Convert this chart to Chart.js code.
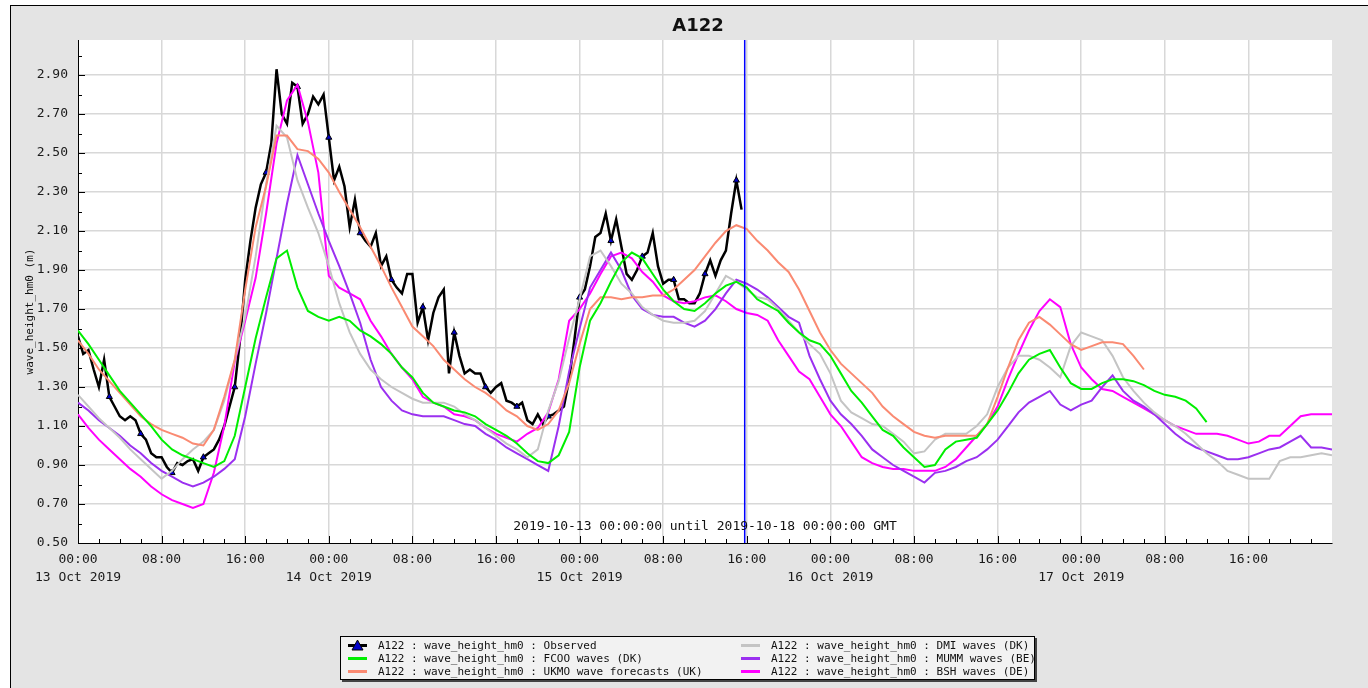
<!DOCTYPE html>
<html>
<head>
<meta charset="utf-8">
<title>A122</title>
<script src="https://cdn.jsdelivr.net/npm/chart.js@4.4.0/dist/chart.umd.min.js"></script>
<style>
  body { margin: 0; background: #fff; width: 1368px; height: 688px; overflow: hidden; position: relative; }
  #frame { position: absolute; left: 10px; top: 5px; right: 0; bottom: 0; background: #e4e4e4; border-top: 1px solid #000; border-left: 1px solid #000; }
  #chart { position: absolute; left: 0; top: 0; }
  #legend { position: absolute; left: 340px; top: 636px; width: 693px; height: 42px; background: #f2f2f2; border: 1px solid #000; box-shadow: 2px 2px 0 #444; font: 11px "DejaVu Sans Mono", monospace; color: #111; }
  .item { position: absolute; height: 13px; line-height: 13px; white-space: pre; }
  .item canvas { position: absolute; left: 0; top: 0; }
  .item span { position: absolute; left: 31px; top: 0; }
</style>
</head>
<body>
<div id="frame"></div>
<canvas id="chart" width="1368" height="688"></canvas>
<div id="legend"></div>
<script>
// hours since 13 Oct 2019 00:00 GMT
const obsStep = 0.5;   // observed every 30 min
const modelStep = 1;   // models hourly
const nowHour = 63.8;
const startDay = 13;
const monthYear = "Oct 2019";
const rangeText = "2019-10-13 00:00:00 until 2019-10-18 00:00:00 GMT";
const yTitle = "wave_height_hm0 (m)";
const chartTitle = "A122";

const observed = [
  1.56, 1.47, 1.49, 1.39, 1.30, 1.44, 1.25, 1.20, 1.15, 1.13, 1.15, 1.13, 1.06, 1.03, 0.96, 0.94,
  0.94, 0.89, 0.86, 0.91, 0.90, 0.92, 0.93, 0.87, 0.94, 0.96, 0.98, 1.03, 1.10, 1.20, 1.30, 1.54,
  1.85, 2.05, 2.22, 2.34, 2.40, 2.55, 2.93, 2.70, 2.65, 2.86, 2.84, 2.65, 2.70, 2.79, 2.75, 2.80,
  2.58, 2.36, 2.43, 2.33, 2.12, 2.26, 2.09, 2.05, 2.02, 2.09, 1.92, 1.97, 1.85, 1.81, 1.78, 1.88,
  1.88, 1.63, 1.71, 1.54, 1.68, 1.76, 1.80, 1.37, 1.58, 1.46, 1.37, 1.39, 1.37, 1.37, 1.30, 1.27,
  1.30, 1.32, 1.23, 1.22, 1.20, 1.22, 1.13, 1.11, 1.16, 1.11, 1.15, 1.16, 1.18, 1.20, 1.34, 1.54,
  1.76, 1.80, 1.92, 2.07, 2.09, 2.19, 2.05, 2.16, 2.02, 1.88, 1.85, 1.90, 1.97, 1.99, 2.09, 1.92,
  1.83, 1.85, 1.85, 1.75, 1.75, 1.73, 1.73, 1.78, 1.88, 1.95, 1.87, 1.95, 2.00, 2.19, 2.36, 2.21
];

const fcoo = [
  1.59, 1.52, 1.44, 1.36, 1.28, 1.22, 1.16, 1.10, 1.03, 0.98, 0.95, 0.93,
  0.91, 0.89, 0.92, 1.05, 1.30, 1.55, 1.76, 1.96, 2.00, 1.81, 1.69, 1.66,
  1.64, 1.66, 1.64, 1.59, 1.56, 1.52, 1.47, 1.40, 1.35, 1.27, 1.22, 1.20,
  1.18, 1.17, 1.15, 1.11, 1.08, 1.05, 1.01, 0.96, 0.92, 0.91, 0.95, 1.07,
  1.40, 1.64, 1.73, 1.84, 1.94, 1.99, 1.96, 1.88, 1.80, 1.74, 1.70, 1.69,
  1.73, 1.78, 1.82, 1.84, 1.81, 1.75, 1.72, 1.69, 1.63, 1.58, 1.54, 1.52,
  1.46, 1.37, 1.28, 1.22, 1.15, 1.08, 1.05, 0.99, 0.94, 0.89, 0.90, 0.98,
  1.02, 1.03, 1.04, 1.11, 1.18, 1.27, 1.37, 1.44, 1.47, 1.49, 1.40, 1.32,
  1.29, 1.29, 1.32, 1.34, 1.34, 1.33, 1.31, 1.28, 1.26, 1.25, 1.23, 1.19,
  1.12
];

const ukmo = [
  1.54, 1.47, 1.39, 1.33, 1.27, 1.21, 1.15, 1.11, 1.08, 1.06, 1.04, 1.01,
  1.00, 1.08, 1.25, 1.44, 1.80, 2.12, 2.33, 2.59, 2.59, 2.52, 2.51, 2.47,
  2.40, 2.30, 2.21, 2.12, 2.02, 1.92, 1.81, 1.71, 1.61, 1.56, 1.51, 1.44,
  1.39, 1.34, 1.30, 1.27, 1.23, 1.18, 1.15, 1.10, 1.08, 1.11, 1.18, 1.32,
  1.52, 1.70, 1.76, 1.76, 1.75, 1.76, 1.76, 1.77, 1.77, 1.80, 1.85, 1.90,
  1.97, 2.04, 2.10, 2.13, 2.11, 2.05, 2.00, 1.94, 1.89, 1.80, 1.69, 1.58,
  1.49, 1.42, 1.37, 1.32, 1.27, 1.20, 1.15, 1.11, 1.07, 1.05, 1.04, 1.05,
  1.05, 1.05, 1.05, 1.11, 1.25, 1.40, 1.54, 1.63, 1.66, 1.62, 1.57, 1.52,
  1.49, 1.51, 1.53, 1.53, 1.52, 1.46, 1.39
];

const dmi = [
  1.26, 1.20, 1.14, 1.09, 1.04, 0.98, 0.93, 0.88, 0.83, 0.87, 0.93, 0.98,
  1.02, 1.08, 1.23, 1.44, 1.66, 1.97, 2.34, 2.64, 2.58, 2.36, 2.22, 2.09,
  1.92, 1.73, 1.58, 1.47, 1.39, 1.34, 1.30, 1.27, 1.24, 1.22, 1.22, 1.22,
  1.20, 1.16, 1.13, 1.09, 1.05, 1.01, 0.98, 0.94, 0.98, 1.18, 1.33, 1.55,
  1.75, 1.97, 2.00, 1.92, 1.83, 1.78, 1.71, 1.67, 1.64, 1.63, 1.63, 1.64,
  1.69, 1.78, 1.87, 1.84, 1.80, 1.76, 1.75, 1.70, 1.64, 1.58, 1.52, 1.47,
  1.37, 1.23, 1.17, 1.14, 1.11, 1.10, 1.06, 1.02, 0.96, 0.97, 1.03, 1.06,
  1.06, 1.06, 1.10, 1.16, 1.30, 1.40, 1.46, 1.46, 1.44, 1.40, 1.35, 1.51,
  1.58, 1.56, 1.54, 1.46, 1.35, 1.28, 1.22, 1.17, 1.13, 1.10, 1.06, 1.01,
  0.96, 0.92, 0.87, 0.85, 0.83, 0.83, 0.83, 0.92, 0.94, 0.94, 0.95, 0.96,
  0.95
];

const mumm = [
  1.22, 1.18, 1.13, 1.09, 1.05, 1.00, 0.96, 0.91, 0.87, 0.84, 0.81, 0.79,
  0.81, 0.84, 0.88, 0.93, 1.15, 1.42, 1.68, 1.96, 2.24, 2.49, 2.34, 2.19,
  2.05, 1.92, 1.78, 1.63, 1.44, 1.30, 1.23, 1.18, 1.16, 1.15, 1.15, 1.15,
  1.13, 1.11, 1.10, 1.06, 1.03, 0.99, 0.96, 0.93, 0.90, 0.87, 1.10, 1.38,
  1.60, 1.81, 1.90, 1.99, 1.90, 1.77, 1.70, 1.67, 1.66, 1.66, 1.63, 1.61,
  1.64, 1.70, 1.78, 1.85, 1.83, 1.80, 1.76, 1.71, 1.66, 1.63, 1.46, 1.34,
  1.23, 1.16, 1.11, 1.05, 0.98, 0.94, 0.90, 0.87, 0.84, 0.81, 0.86, 0.87,
  0.89, 0.92, 0.94, 0.98, 1.03, 1.10, 1.17, 1.22, 1.25, 1.28, 1.21, 1.18,
  1.21, 1.23, 1.30, 1.36, 1.28, 1.23, 1.20, 1.16, 1.11, 1.06, 1.02, 0.99,
  0.97, 0.95, 0.93, 0.93, 0.94, 0.96, 0.98, 0.99, 1.02, 1.05, 0.99, 0.99,
  0.98
];

const bsh = [
  1.16, 1.09, 1.03, 0.98, 0.93, 0.88, 0.84, 0.79, 0.75, 0.72, 0.70, 0.68,
  0.70, 0.86, 1.10, 1.43, 1.64, 1.86, 2.19, 2.55, 2.77, 2.85, 2.66, 2.40,
  1.87, 1.81, 1.78, 1.75, 1.64, 1.56, 1.47, 1.40, 1.34, 1.25, 1.22, 1.20,
  1.16, 1.15, 1.13, 1.09, 1.06, 1.04, 1.02, 1.06, 1.09, 1.17, 1.34, 1.64,
  1.70, 1.78, 1.88, 1.97, 1.99, 1.96, 1.89, 1.84, 1.77, 1.74, 1.73, 1.74,
  1.76, 1.77, 1.74, 1.70, 1.68, 1.67, 1.64, 1.54, 1.46, 1.38, 1.34, 1.25,
  1.16, 1.10, 1.02, 0.94, 0.91, 0.89, 0.88, 0.88, 0.87, 0.87, 0.87, 0.89,
  0.93, 0.99, 1.05, 1.11, 1.20, 1.34, 1.47, 1.59, 1.69, 1.75, 1.71, 1.52,
  1.40, 1.34, 1.29, 1.28, 1.25, 1.22, 1.19, 1.16, 1.13, 1.10, 1.08, 1.06,
  1.06, 1.06, 1.05, 1.03, 1.01, 1.02, 1.05, 1.05, 1.10, 1.15, 1.16, 1.16,
  1.16
];

function toPoints(values, step) {
  return values.map((v, i) => ({ x: i * step, y: v }));
}

function modelSet(label, values, color) {
  return {
    label: label,
    data: toPoints(values, modelStep),
    borderColor: color,
    backgroundColor: color,
    borderWidth: 2,
    pointRadius: 0,
    tension: 0,
    order: 0
  };
}

const prefix = "A122 : wave_height_hm0 : ";
const datasets = [
  {
    label: prefix + "Observed",
    data: toPoints(observed, obsStep),
    borderColor: "#000",
    backgroundColor: "#0000c8",
    borderWidth: 2.5,
    tension: 0,
    pointStyle: "triangle",
    pointRadius: (ctx) => (ctx.dataIndex > 0 && ctx.dataIndex % 6 === 0) ? 3.5 : 0,
    pointBackgroundColor: "#0000c8",
    pointBorderColor: "#000",
    pointBorderWidth: 1,
    order: 1
  },
  modelSet(prefix + "FCOO waves (DK)", fcoo, "#00ee00"),
  modelSet(prefix + "UKMO wave forecasts (UK)", ukmo, "#fa8a72"),
  modelSet(prefix + "DMI waves (DK)", dmi, "#c4c4c4"),
  modelSet(prefix + "MUMM waves (BE)", mumm, "#9b30f0"),
  modelSet(prefix + "BSH waves (DE)", bsh, "#ff00ff")
];

const monoFont = '"DejaVu Sans Mono", monospace';

const decor = {
  id: "decor",
  beforeDraw(chart) {
    const { ctx, chartArea: a } = chart;
    ctx.save();
    ctx.fillStyle = "#fff";
    ctx.fillRect(a.left, a.top, a.right - a.left, a.bottom - a.top);
    ctx.restore();
  },
  beforeDatasetsDraw(chart) {
    const { ctx, chartArea: a, scales } = chart;
    ctx.save();
    ctx.strokeStyle = "#000";
    ctx.lineWidth = 1;
    ctx.beginPath();
    for (let h = 2; h < 120; h += 2) {
      const x = Math.round(scales.x.getPixelForValue(h)) + 0.5;
      const len = h % 8 === 0 ? 7 : 4;
      ctx.moveTo(x, a.bottom);
      ctx.lineTo(x, a.bottom - len);
    }
    for (let k = 6; k <= 30; k++) {
      const y = Math.round(scales.y.getPixelForValue(k / 10)) + 0.5;
      const len = (k - 5) % 2 === 0 ? 7 : 4;
      ctx.moveTo(a.left, y);
      ctx.lineTo(a.left + len, y);
    }
    ctx.stroke();
    ctx.restore();
  },
  afterDatasetsDraw(chart) {
    const { ctx, chartArea: a, scales } = chart;
    ctx.save();
    // current time marker
    const nx = scales.x.getPixelForValue(nowHour);
    ctx.strokeStyle = "#0000ff";
    ctx.lineWidth = 1.5;
    ctx.beginPath();
    ctx.moveTo(nx, a.top);
    ctx.lineTo(nx, a.bottom);
    ctx.stroke();

    ctx.fillStyle = "#111";
    ctx.textAlign = "center";
    ctx.textBaseline = "middle";
    ctx.font = "13px " + monoFont;
    ctx.fillText(rangeText, (a.left + a.right) / 2, a.bottom - 16);

    ctx.font = 'bold 18px "DejaVu Sans", sans-serif';
    ctx.fillText(chartTitle, 698, 26);

    ctx.font = "11px " + monoFont;
    ctx.translate(30, (a.top + a.bottom) / 2 + 20);
    ctx.rotate(-Math.PI / 2);
    ctx.fillText(yTitle, 0, 0);
    ctx.restore();
  }
};

const chart = new Chart(document.getElementById("chart"), {
  type: "line",
  data: { datasets: datasets },
  options: {
    responsive: false,
    animation: false,
    layout: { padding: { left: 10, right: 36, top: 40, bottom: 0 } },
    plugins: { legend: { display: false }, title: { display: false }, tooltip: { enabled: false } },
    scales: {
      x: {
        type: "linear",
        min: 0,
        max: 120,
        afterFit: (s) => { s.height = 145; },
        border: { color: "#000", width: 1 },
        grid: {
          drawTicks: false,
          color: (c) => (c.tick && c.tick.value % 8 === 0 && c.tick.value > 0 && c.tick.value < 120) ? "#d8d8d8" : "rgba(0,0,0,0)",
          lineWidth: 1.5
        },
        ticks: {
          stepSize: 2,
          autoSkip: false,
          maxRotation: 0,
          padding: 8,
          color: "#1a1a1a",
          font: { family: monoFont, size: 13, lineHeight: 1.35 },
          callback: (v) => {
            if (v % 8 !== 0 || v >= 120) return "";
            const hh = String(v % 24).padStart(2, "0") + ":00";
            if (v % 24 === 0) return [hh, (startDay + v / 24) + " " + monthYear];
            return hh;
          }
        }
      },
      y: {
        min: 0.5,
        max: 3.08,
        afterFit: (s) => { s.width = 68; },
        border: { color: "#000", width: 1 },
        grid: {
          drawTicks: false,
          color: (c) => {
            if (!c.tick) return "rgba(0,0,0,0)";
            const k = Math.round(c.tick.value * 10);
            return (k > 5 && k <= 29 && (k - 5) % 2 === 0) ? "#d8d8d8" : "rgba(0,0,0,0)";
          },
          lineWidth: 1.5
        },
        ticks: {
          stepSize: 0.1,
          autoSkip: false,
          padding: 10,
          color: "#1a1a1a",
          font: { family: monoFont, size: 13 },
          callback: (v) => {
            const k = Math.round(v * 10);
            return (k <= 29 && (k - 5) % 2 === 0) ? v.toFixed(2) : "";
          }
        }
      }
    }
  },
  plugins: [decor]
});

// legend: two columns of three, built from the datasets
const legendBox = document.getElementById("legend");
chart.data.datasets.forEach((ds, i) => {
  const col = Math.floor(i / 3);
  const row = i % 3;
  const item = document.createElement("div");
  item.className = "item";
  item.style.left = (col === 0 ? 6 : 399) + "px";
  item.style.top = (2 + row * 13) + "px";
  const c = document.createElement("canvas");
  c.width = 24; c.height = 13;
  const g = c.getContext("2d");
  g.strokeStyle = ds.borderColor;
  g.lineWidth = 3;
  g.beginPath(); g.moveTo(1, 6.5); g.lineTo(20, 6.5); g.stroke();
  if (ds.pointStyle === "triangle") {
    g.fillStyle = ds.pointBackgroundColor;
    g.strokeStyle = "#000";
    g.lineWidth = 1;
    g.beginPath(); g.moveTo(10.5, 1); g.lineTo(16, 11); g.lineTo(5, 11); g.closePath();
    g.fill(); g.stroke();
  }
  const t = document.createElement("span");
  t.textContent = ds.label;
  item.appendChild(c);
  item.appendChild(t);
  legendBox.appendChild(item);
});
</script>
</body>
</html>
